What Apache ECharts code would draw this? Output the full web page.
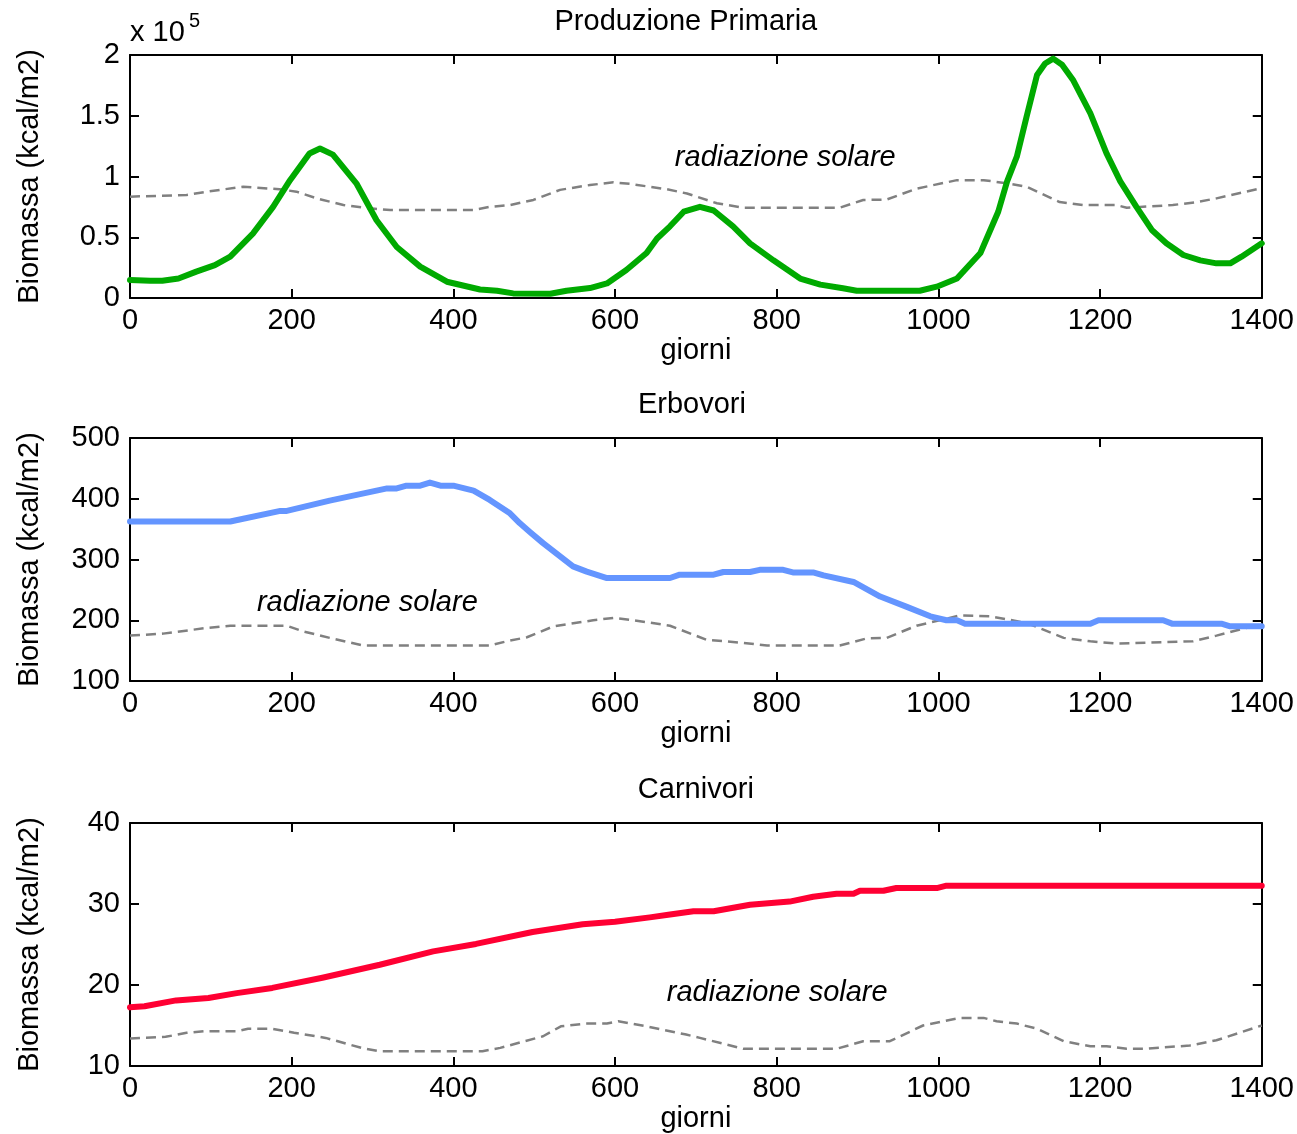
<!DOCTYPE html>
<html>
<head>
<meta charset="utf-8">
<script src="https://cdn.jsdelivr.net/npm/echarts@6/dist/echarts.min.js"></script>
<style>
html,body{margin:0;padding:0;background:#fff;}
#chart{width:1297px;height:1134px;}
</style>
</head>
<body>
<div id="chart"></div>
<script>
// ---------- data (x = giorni) ----------
const titles = ['Produzione Primaria', 'Erbovori', 'Carnivori'];
const xTicks = [0, 200, 400, 600, 800, 1000, 1200, 1400];
const xLabel = 'giorni';
const yLabel = 'Biomassa (kcal/m2)';
const annotation = 'radiazione solare';

// Produzione primaria, in units of 1e5 kcal/m2
const primaria = [[0,0.148],[25,0.142],[40,0.142],[60,0.16],[82,0.217],[105,0.27],[124,0.34],[152,0.53],[177,0.75],[198,0.97],[222,1.19],[235,1.23],[251,1.18],[280,0.944],[305,0.64],[330,0.42],[359,0.258],[392,0.134],[433,0.07],[454,0.06],[474,0.038],[520,0.035],[540,0.06],[569,0.082],[590,0.12],[614,0.23],[639,0.37],[652,0.49],[668,0.59],[685,0.71],[705,0.75],[722,0.72],[746,0.59],[767,0.45],[796,0.31],[829,0.16],[854,0.11],[882,0.08],[899,0.06],[977,0.06],[998,0.093],[1023,0.16],[1052,0.37],[1074,0.71],[1085,0.96],[1097,1.163],[1109,1.49],[1122,1.835],[1132,1.93],[1142,1.97],[1153,1.92],[1167,1.79],[1188,1.52],[1208,1.19],[1225,0.96],[1245,0.75],[1264,0.56],[1282,0.45],[1303,0.354],[1324,0.31],[1344,0.285],[1361,0.285],[1375,0.34],[1400,0.45]];
const solare1 = [[0,0.834],[70,0.848],[95,0.875],[140,0.916],[185,0.895],[206,0.875],[231,0.82],[264,0.765],[297,0.738],[322,0.724],[425,0.724],[445,0.75],[470,0.765],[499,0.807],[532,0.89],[569,0.93],[598,0.952],[618,0.94],[664,0.895],[689,0.86],[726,0.78],[759,0.743],[878,0.743],[907,0.807],[936,0.81],[973,0.90],[1023,0.97],[1056,0.97],[1085,0.944],[1109,0.916],[1150,0.79],[1179,0.765],[1220,0.765],[1233,0.743],[1290,0.765],[1320,0.79],[1344,0.82],[1400,0.905]];

const erbovori = [[0,362.5],[124,362.5],[186,380],[194,380],[247,397],[318,417],[330,417],[342,421.6],[359,421.6],[371,426.6],[384,421.6],[400,421.6],[425,413.5],[445,398],[470,376],[482,360],[495,345],[511,327],[548,288.6],[565,280],[590,269.5],[668,269.5],[680,275],[722,275],[734,279.4],[767,279.4],[779,283],[808,283],[820,278.7],[845,278.7],[858,273.8],[895,263],[928,239],[961,222],[990,206.5],[1010,200],[1023,200],[1033,194.4],[1188,194.4],[1198,200],[1278,200],[1289,194.4],[1350,194.4],[1361,190],[1400,190]];
const solare2 = [[0,174.7],[41,178],[95,187.4],[124,191],[194,191],[214,181.8],[247,171],[289,158.3],[445,158.3],[466,165.4],[491,172],[524,190],[573,200],[598,203.8],[623,200],[668,191],[713,168],[759,162.7],[788,158.3],[878,158.3],[911,170],[936,171],[973,191],[1027,208],[1064,206.5],[1109,195.6],[1155,171],[1188,165.4],[1220,161.6],[1315,165.4],[1344,174.7],[1400,194]];

const carnivori = [[0,17.25],[18,17.37],[57,18.1],[97,18.4],[132,19.0],[176,19.64],[238,20.9],[309,22.5],[375,24.15],[428,25.07],[498,26.55],[560,27.5],[600,27.8],[643,28.35],[668,28.7],[697,29.1],[722,29.1],[767,29.9],[816,30.3],[845,30.9],[874,31.27],[895,31.27],[903,31.64],[932,31.64],[948,31.97],[998,31.97],[1010,32.26],[1400,32.26]];
const solare3 = [[0,13.39],[44,13.6],[70,14.1],[92,14.3],[132,14.3],[146,14.6],[176,14.6],[203,14.1],[242,13.47],[286,12.24],[308,11.83],[436,11.83],[458,12.24],[511,13.67],[533,14.9],[564,15.24],[590,15.24],[604,15.52],[639,14.9],[688,13.88],[705,13.47],[759,12.12],[874,12.12],[907,13.06],[940,13.06],[981,15.0],[1027,15.94],[1056,15.94],[1072,15.52],[1097,15.24],[1122,14.6],[1155,13.06],[1188,12.44],[1208,12.44],[1233,12.12],[1254,12.12],[1311,12.53],[1344,13.18],[1400,15.0]];

const yRanges = [[0, 2, 0.5], [100, 500, 100], [10, 40, 10]];
const annotationPos = [[674, 1.152], [157, 228.4], [664, 19.03]];
const lineColors = ['#00aa00', '#6495ff', '#ff0033'];
const mainSeries = [primaria, erbovori, carnivori];
const solarSeries = [solare1, solare2, solare3];

// ---------- layout / style ----------
const FONT = '"Liberation Sans", Arial, Helvetica, sans-serif';
const FS = 29;
const gridTops = [55, 438, 823];
const titleShift = [-10, -4, 0];
const GRID_H = 243, GRID_L = 130, GRID_R = 35;

const chart = echarts.init(document.getElementById('chart'), null, {renderer: 'canvas'});

const grid = [], xAxis = [], yAxis = [], series = [];
const mkLine = () => ({show: true, onZero: false, lineStyle: {color: '#000', width: 2}});
const mkTick = () => ({show: true, inside: true, length: 9, lineStyle: {color: '#000', width: 2}});
const plain = v => String(+(+v).toFixed(2));

for (let i = 0; i < 3; i++) {
  grid.push({left: GRID_L, right: GRID_R, top: gridTops[i], height: GRID_H, containLabel: false});
  xAxis.push({
    type: 'value', gridIndex: i, position: 'bottom', min: 0, max: 1400, interval: 200,
    axisLine: mkLine(), axisTick: mkTick(), splitLine: {show: false},
    axisLabel: {color: '#000', fontSize: FS, fontFamily: FONT, margin: 8, formatter: plain},
    name: xLabel, nameLocation: 'middle', nameGap: 38,
    nameTextStyle: {color: '#000', fontSize: FS, fontFamily: FONT}
  });
  xAxis.push({
    type: 'value', gridIndex: i, position: 'top', min: 0, max: 1400, interval: 200,
    axisLine: mkLine(), axisTick: mkTick(), splitLine: {show: false}, axisLabel: {show: false}
  });
  const [ymin, ymax, yint] = yRanges[i];
  yAxis.push({
    type: 'value', gridIndex: i, position: 'left', min: ymin, max: ymax, interval: yint,
    axisLine: mkLine(), axisTick: mkTick(), splitLine: {show: false},
    axisLabel: {color: '#000', fontSize: FS, fontFamily: FONT, margin: 10, formatter: plain},
    name: yLabel, nameLocation: 'middle', nameGap: 86, nameRotate: 90,
    nameTextStyle: {color: '#000', fontSize: FS, fontFamily: FONT}
  });
  yAxis.push({
    type: 'value', gridIndex: i, position: 'right', min: ymin, max: ymax, interval: yint,
    axisLine: mkLine(), axisTick: mkTick(), splitLine: {show: false}, axisLabel: {show: false}
  });
  series.push({
    type: 'line', xAxisIndex: 2 * i, yAxisIndex: 2 * i, data: solarSeries[i],
    showSymbol: false, symbol: 'none', silent: true, z: 2,
    lineStyle: {color: '#808080', width: 2.5, type: [10, 6]}
  });
  series.push({
    type: 'line', xAxisIndex: 2 * i, yAxisIndex: 2 * i, data: mainSeries[i],
    showSymbol: false, symbol: 'none', silent: true, z: 3,
    lineStyle: {color: lineColors[i], width: 6, cap: 'round', join: 'round'}
  });
}

chart.setOption({
  animation: false,
  backgroundColor: '#fff',
  textStyle: {fontFamily: FONT},
  grid, xAxis, yAxis, series
});

// titles, exponent, annotations placed via the axes' own scales
const graphic = [];
for (let i = 0; i < 3; i++) {
  const mid = chart.convertToPixel({xAxisIndex: 2 * i}, 700) + titleShift[i];
  graphic.push({
    type: 'text', x: mid, y: gridTops[i] - 33,
    style: {text: titles[i], font: `${FS}px ${FONT}`, fill: '#000', align: 'center', verticalAlign: 'middle'}
  });
  const p = chart.convertToPixel({gridIndex: i}, annotationPos[i]);
  graphic.push({
    type: 'text', x: p[0], y: p[1],
    style: {text: annotation, font: `italic ${FS}px ${FONT}`, fill: '#000', align: 'left', verticalAlign: 'middle'}
  });
}
graphic.push({
  type: 'text', x: GRID_L, y: 33,
  style: {text: 'x 10', font: `${FS}px ${FONT}`, fill: '#000', align: 'left', verticalAlign: 'middle'}
});
graphic.push({
  type: 'text', x: GRID_L + 59, y: 21,
  style: {text: '5', font: `${FS - 9}px ${FONT}`, fill: '#000', align: 'left', verticalAlign: 'middle'}
});
chart.setOption({graphic});
</script>
</body>
</html>
